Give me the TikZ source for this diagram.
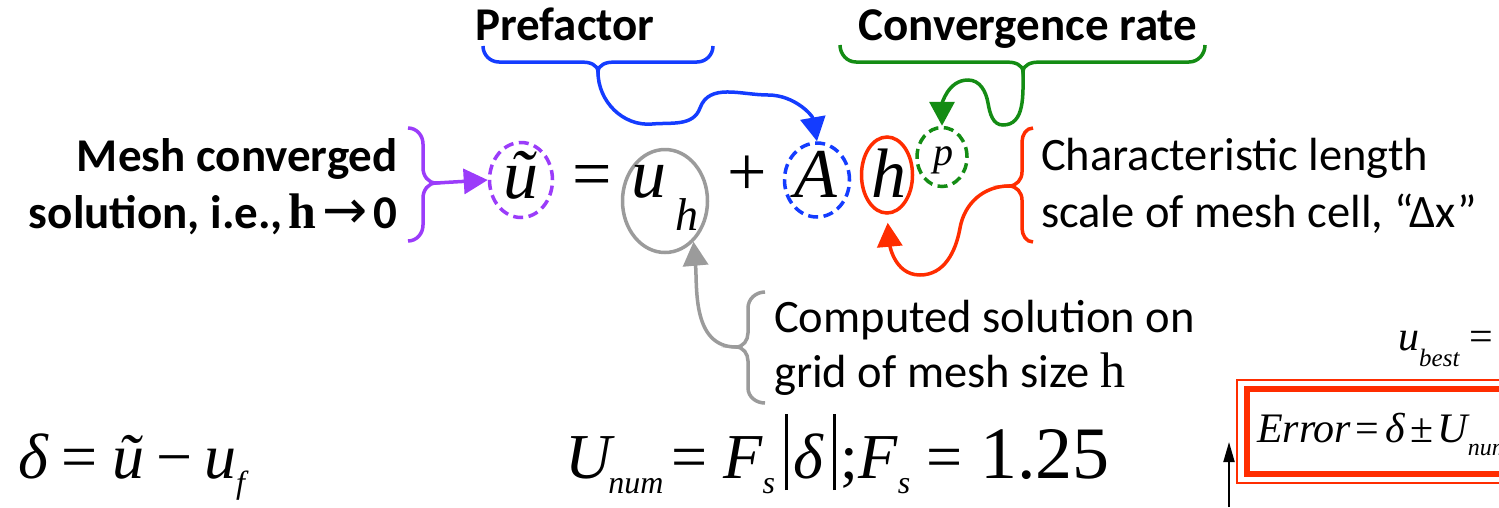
\documentclass[tikz,border=0pt]{standalone}
\usepackage{fontspec}
\setmainfont{Carlito}
\newfontfamily\tnr{Liberation Serif}
\newfontfamily\djv{DejaVu Sans}
\usetikzlibrary{shapes.geometric,arrows.meta}
\definecolor{cpur}{RGB}{155,60,250}
\definecolor{cblue}{RGB}{20,60,255}
\definecolor{cgreen}{RGB}{20,140,20}
\definecolor{cred}{RGB}{255,45,0}
\definecolor{cgray}{RGB}{155,155,155}
\begin{document}
\begin{tikzpicture}[x=1pt,y=1pt,
  lbl/.style={inner sep=0,font=\fontsize{47}{55}\selectfont\bfseries},
  body/.style={inner sep=0,font=\fontsize{46.5}{55}\selectfont},
  eqf/.style={inner sep=0,font=\fontsize{70}{74}\selectfont\tnr\itshape},
  equp/.style={inner sep=0,font=\fontsize{70}{74}\selectfont\tnr},
  ring/.style={ellipse,draw,inner sep=0,line width=3.5pt},
  dring/.style={ring,dash pattern=on 10pt off 5.5pt},
  conn/.style={line width=3.5pt,-{Triangle[length=24pt,width=25pt]}},
  brc/.style={line width=3.5pt},
  btm/.style={inner sep=0,anchor=base west,font=\fontsize{64}{66}\selectfont\tnr},
]
\useasboundingbox (0,0) rectangle (1499,-507);
\clip (0,0) rectangle (1499,-507);
\fill[white] (0,0) rectangle (1499,-507);

% labels
\node[lbl,anchor=base] (tpre) at (565,-40) {Prefactor};
\node[lbl,anchor=base] (tconv) at (1028,-40) {Convergence rate};
\node[lbl,anchor=base east] (tm1) at (398,-171) {Mesh converged};
\node[lbl,anchor=base east] (tm2) at (398,-228) {solution, i.e.,\kern6pt{\tnr\fontsize{50}{50}\selectfont h}\kern6pt{\djv\mdseries\fontsize{54}{54}\selectfont →}\kern6pt0};
\node[body,anchor=base west] (tc1) at (1041,-170) {Characteristic length};
\node[body,anchor=base west] (tc2) at (1041,-227) {scale of mesh cell, “Δx”};
\node[body,anchor=base west] (tg1) at (774,-332) {Computed solution on};
\node[body,anchor=base west] (tg2) at (774,-387) {grid of mesh size {\tnr\fontsize{50}{50}\selectfont h}};

% rings
\node[dring,draw=cpur,minimum width=63pt,minimum height=75pt] (ru) at (521,-180) {};
\node[ring,draw=cgray,minimum width=85pt,minimum height=103pt] (ruh) at (665,-201) {};
\node[dring,draw=cblue,minimum width=65pt,minimum height=74pt] (rA) at (817,-180) {};
\node[ring,draw=cred,minimum width=51pt,minimum height=76pt] (rh) at (887,-175) {};
\node[dring,draw=cgreen,minimum width=50pt,minimum height=59pt] (rp) at (942,-157) {};

% equation glyphs
\node[eqf,anchor=base] (gu) at (521,-198) {ũ};
\node[equp,anchor=base] (geq) at (592,-197) {=};
\node[eqf,anchor=base] (guh) at (649,-197) {u};
\node[inner sep=0,anchor=base,font=\fontsize{46}{46}\selectfont\tnr\itshape] (gsub) at (687,-230) {h};
\node[equp,anchor=base] (gplus) at (747,-195) {+};
\node[eqf,anchor=base] (gA) at (816,-197) {A};
\node[eqf,anchor=base] (gh) at (889,-197) {h};
\node[inner sep=0,anchor=base,font=\fontsize{40}{40}\selectfont\tnr\itshape] (gp) at (943,-165) {p};

% purple brace + arrow
\draw[brc,cpur] (408,-128) to[out=0,in=90] (423,-144) -- (423,-168) to[out=-90,in=180] (436,-183) coordinate (cpu)
  to[out=180,in=90] (423,-198) -- (423,-225) to[out=-90,in=0] (408,-241);
\draw[conn,cpur] (cpu) -- (ru.west);

% blue brace + arrow
\draw[brc,cblue] (483,-46) to[out=-90,in=180] (499,-62) -- (582,-62) to[out=0,in=90] (598,-72) coordinate (cbl)
  to[out=90,in=180] (614,-62) -- (697,-62) to[out=0,in=-90] (713,-46);
\draw[conn,cblue] (cbl) to[out=-90,in=185] (652,-124) to[out=5,in=-110] (700,-108)
  to[out=70,in=180] (768,-95) to[out=0,in=100] (rA.north);

% green brace + arrow
\draw[brc,cgreen] (840,-45) to[out=-90,in=180] (856,-62) -- (1007,-62) to[out=0,in=90] (1023,-72) coordinate (cgr)
  to[out=90,in=180] (1039,-62) -- (1189,-62) to[out=0,in=-90] (1205,-45);
\draw[conn,cgreen] (cgr) to[out=-90,in=0] (1003,-125) to[out=180,in=-80] (988,-103)
  to[out=100,in=0] (968,-80) to[out=180,in=90] (rp.north);

% red brace + arrow
\draw[brc,cred] (1033,-128) to[out=180,in=90] (1022,-142) -- (1022,-172) to[out=-90,in=0] (1009,-186) coordinate (crd)
  to[out=0,in=90] (1022,-200) -- (1022,-228) to[out=-90,in=180] (1033,-242);
\draw[conn,cred,shorten >=8pt] (crd) to[out=180,in=80] (960,-228) to[out=-100,in=0] (920,-275)
  to[out=180,in=-85] (rh.south);

% gray brace + arrow
\draw[brc,cgray] (765,-292) to[out=180,in=90] (748,-308) -- (748,-333) to[out=-90,in=0] (736,-347) coordinate (cgy)
  to[out=0,in=90] (748,-361) -- (748,-388) to[out=-90,in=180] (765,-403);
\draw[conn,cgray] (cgy) to[out=180,in=-85] (ruh.-55);

% bottom formulas
\node[btm] (fdelta) at (18,-478) {\itshape δ\kern14pt\upshape=\kern14pt\itshape ũ\kern12pt\upshape−\kern12pt\itshape u\raisebox{-15pt}{\fontsize{32}{32}\selectfont f}};
\node[btm] (fU) at (565,-478) {\itshape U\kern-3pt\raisebox{-15pt}{\fontsize{32}{32}\selectfont num}\kern8pt\upshape=\kern16pt\itshape F\raisebox{-15pt}{\fontsize{32}{32}\selectfont s}\kern10pt\rule[-12pt]{2.5pt}{76pt}\kern6pt δ\kern10pt\rule[-12pt]{2.5pt}{76pt}\kern5pt\upshape;\itshape F\raisebox{-15pt}{\fontsize{32}{32}\selectfont s}\kern16pt\upshape=\kern18pt{\fontsize{74}{74}\selectfont 1.25}};

% u_best
\node[inner sep=0,anchor=base west,font=\fontsize{42}{42}\selectfont\tnr] (ub) at (1398,-350) {\itshape u\raisebox{-16pt}{\fontsize{25}{25}\selectfont best}\upshape\kern10pt=};

% error box
\draw[cred,line width=2pt] (1237,-380) rectangle (1530,-483);
\draw[cred,line width=6pt] (1247,-389) rectangle (1530,-474);
\node[inner sep=0,anchor=base west,font=\fontsize{42}{42}\selectfont\tnr] (err) at (1257,-442) {\itshape Error\kern4pt\upshape=\kern6pt\itshape δ\kern6pt\upshape±\kern4pt\itshape U\raisebox{-13pt}{\fontsize{24}{24}\selectfont num}};

% black arrow
\coordinate (ba0) at (1229,-507);
\coordinate (ba1) at (1229,-442);
\draw[line width=2pt,-{Triangle[length=20pt,width=11pt]}] (ba0) -- (ba1);
\end{tikzpicture}
\end{document}
